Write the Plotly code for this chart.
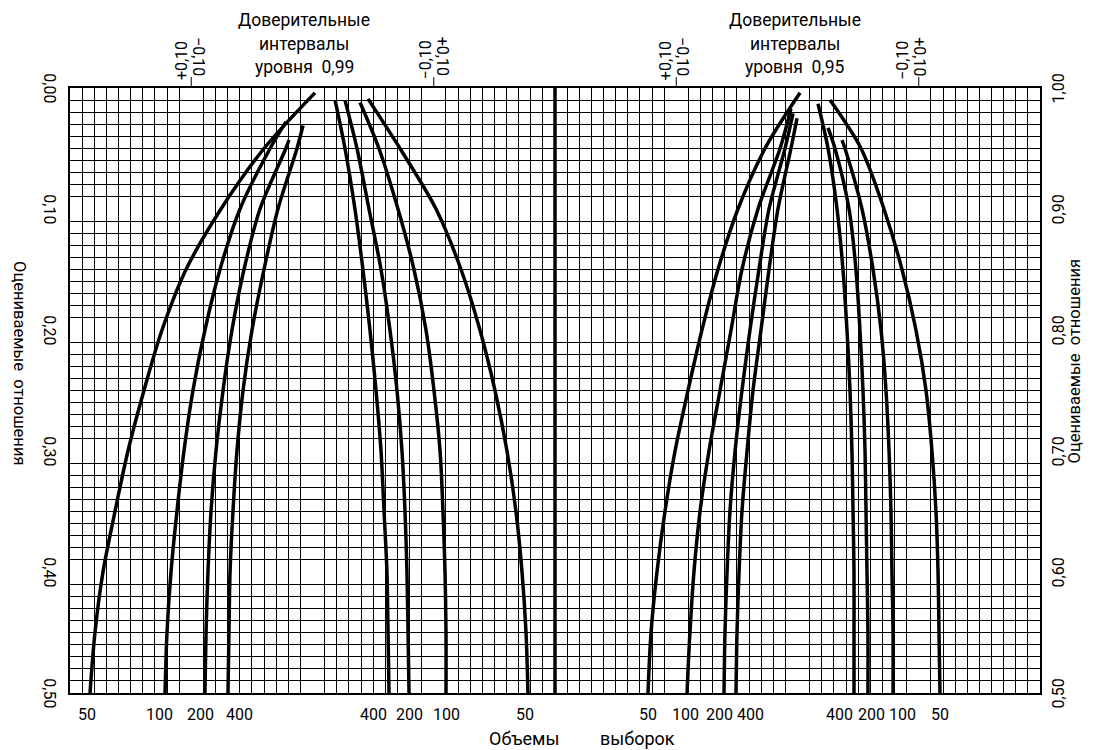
import plotly.graph_objects as go

FONT = "Roboto, Liberation Sans, sans-serif"

# Horizontal axis: grid cells, one cell = 0.01 of deviation.
# Centres of the two nomograms sit at cells 20 (0.99) and 60 (0.95).
X_MAX = 80
P_MAX = 0.50

# Estimated-proportion levels at which every curve is sampled
P_LEVELS = [0.05, 0.10, 0.15, 0.20, 0.25, 0.30, 0.35, 0.40, 0.45, 0.50]
SAMPLE_SIZES = [50, 100, 200, 400]

# ---- confidence level 0.99, "+" branch (left of centre) ----
LOW99_START_P = [0.004, 0.028, 0.043, 0.031]
LOW99_START_X = [20.2, 17.81, 18.06, 19.22]
LOW99_N50 = [16.0, 12.45, 9.57, 7.59, 6.10, 4.78, 3.71, 2.72, 2.06, 1.65]
LOW99_N100 = [16.5, 14.02, 12.37, 11.13, 10.14, 9.40, 8.82, 8.33, 8.00, 7.84]
LOW99_N200 = [17.8, 15.67, 14.35, 13.36, 12.62, 12.04, 11.63, 11.38, 11.22, 11.13]
LOW99_N400 = [18.72, 17.15, 16.0, 15.01, 14.27, 13.77, 13.44, 13.20, 13.11, 13.03]

# ---- confidence level 0.99, "-" branch (right of centre) ----
UP99_START_P = [0.009, 0.012, 0.010, 0.010]
UP99_START_X = [24.58, 23.92, 22.68, 21.86]
UP99_N50 = [27.22, 30.19, 32.25, 33.81, 35.05, 36.04, 36.78, 37.28, 37.61, 37.77]
UP99_N100 = [25.48, 27.05, 28.37, 29.36, 30.02, 30.52, 30.76, 30.93, 31.01, 31.01]
UP99_N200 = [23.67, 24.66, 25.65, 26.39, 26.97, 27.38, 27.63, 27.79, 27.88, 27.96]
UP99_N400 = [22.68, 23.50, 24.16, 24.74, 25.24, 25.65, 25.90, 26.14, 26.23, 26.31]

# ---- confidence level 0.95, "+" branch ----
LOW95_START_P = [0.004, 0.017, 0.021, 0.025]
LOW95_START_X = [60.21, 59.46, 59.63, 59.96]
LOW95_N50 = [57.32, 55.09, 53.44, 52.12, 50.97, 49.90, 49.07, 48.41, 47.92, 47.67]
LOW95_N100 = [58.56, 56.74, 55.42, 54.52, 53.61, 52.70, 51.96, 51.46, 51.13, 50.89]
LOW95_N200 = [58.97, 57.65, 56.82, 56.08, 55.42, 54.85, 54.43, 54.19, 54.02, 53.94]
LOW95_N400 = [59.46, 58.39, 57.65, 56.99, 56.33, 55.84, 55.42, 55.18, 55.01, 54.93]

# ---- confidence level 0.95, "-" branch ----
UP95_START_P = [0.010, 0.043, 0.033, 0.013]
UP95_START_X = [62.68, 63.67, 62.52, 61.69]
UP95_N50 = [65.24, 67.13, 68.62, 69.77, 70.60, 71.09, 71.42, 71.59, 71.67, 71.75]
UP95_N100 = [63.92, 65.32, 66.23, 66.89, 67.30, 67.55, 67.71, 67.79, 67.88, 67.88]
UP95_N200 = [63.09, 64.25, 64.82, 65.15, 65.40, 65.57, 65.65, 65.73, 65.81, 65.81]
UP95_N400 = [62.52, 63.26, 63.75, 64.08, 64.33, 64.49, 64.58, 64.66, 64.66, 64.66]

# Sample-size labels under the bottom edge
N_LABEL_X = [1.40, 7.42, 10.80, 13.94, 24.99, 28.04, 31.01, 37.53,
             47.67, 50.80, 53.60, 56.10, 63.50, 66.14, 68.70, 71.75]
N_LABEL_TEXT = ["50", "100", "200", "400", "400", "200", "100", "50",
                "50", "100", "200", "400", "400", "200", "100", "50"]

# Proportion scales on both sides
LEFT_TICKS = [0.0, 0.1, 0.2, 0.3, 0.4, 0.5]
LEFT_TEXT = ["0,00", "0,10", "0,20", "0,30", "0,40", "0,50"]
RIGHT_TEXT = ["1,00", "0,90", "0,80", "0,70", "0,60", "0,50"]

# Deviation marks of ±0.10 on the top edge
DEV_TICKS = [10, 30, 50, 70]

fig = go.Figure()

groups = [
    (LOW99_START_P, LOW99_START_X, [LOW99_N50, LOW99_N100, LOW99_N200, LOW99_N400]),
    (UP99_START_P, UP99_START_X, [UP99_N50, UP99_N100, UP99_N200, UP99_N400]),
    (LOW95_START_P, LOW95_START_X, [LOW95_N50, LOW95_N100, LOW95_N200, LOW95_N400]),
    (UP95_START_P, UP95_START_X, [UP95_N50, UP95_N100, UP95_N200, UP95_N400]),
]
for start_p, start_x, curves in groups:
    for n, p0, x0, xs in zip(SAMPLE_SIZES, start_p, start_x, curves):
        fig.add_trace(go.Scatter(
            x=[x0] + xs, y=[p0] + P_LEVELS, mode="lines", name=f"n={n}",
            line=dict(color="black", width=3.5, shape="spline", smoothing=0.9),
            hoverinfo="skip", showlegend=False))

# Divider between the two nomograms
fig.add_trace(go.Scatter(x=[X_MAX / 2, X_MAX / 2], y=[0, P_MAX], mode="lines",
                         line=dict(color="black", width=3.5),
                         hoverinfo="skip", showlegend=False))

shapes = []
for t in DEV_TICKS:
    shapes.append(dict(type="line", xref="x", yref="paper", x0=t, x1=t,
                       y0=1.0, y1=1.018, line=dict(color="black", width=1)))

ann = []
def txt(text, x, y, xref="paper", yref="paper", size=17, angle=0):
    ann.append(dict(text=text, x=x, y=y, xref=xref, yref=yref, showarrow=False,
                    xanchor="center", yanchor="middle", textangle=angle,
                    font=dict(family=FONT, size=size, color="black")))

for p, s in zip(LEFT_TICKS, LEFT_TEXT):
    txt(s, -0.021, p, yref="y", size=16, angle=90)
for p, s in zip(LEFT_TICKS, RIGHT_TEXT):
    txt(s, 1.019, p, yref="y", size=16, angle=-90)

txt("Оцениваемые  отношения", -0.052, 0.227, yref="y", size=16.5, angle=90)
txt("Оцениваемые  отношения", 1.036, 0.226, yref="y", size=16.5, angle=-90)

for s, xc in [("0,99", 19.3), ("0,95", 59.8)]:
    txt("Доверительные", xc, 1.112, xref="x", size=17.5)
    txt("интервалы", xc, 1.073, xref="x", size=17.5)
    txt("уровня  " + s, xc, 1.034, xref="x", size=17.5)

# rotated ±0,10 marks: (position, first column, second column)
for xc, a, b in [(9.15, "+0,10", "−0,10"), (29.3, "−0,10", "+0,10"),
                 (49.07, "+0,10", "−0,10"), (68.6, "−0,10", "+0,10")]:
    txt(a, xc, 1.046, xref="x", size=16, angle=-90)
    txt(b, xc + 1.45, 1.052, xref="x", size=16, angle=90)

for xv, s in zip(N_LABEL_X, N_LABEL_TEXT):
    txt(s, xv, -0.036, xref="x", size=16)

txt("Объемы", 0.468, -0.076, size=18)
txt("выборок", 0.585, -0.076, size=18)

axis_common = dict(showline=True, linewidth=2, linecolor="black", mirror=True,
                   showgrid=False, zeroline=False, showticklabels=False, ticks="")
fig.update_layout(
    width=1093, height=750,
    margin=dict(l=70, r=53, t=88, b=57),
    paper_bgcolor="white", plot_bgcolor="white",
    xaxis=dict(range=[0, X_MAX], **axis_common,
               minor=dict(dtick=1, tick0=0, showgrid=True, gridcolor="black", gridwidth=1)),
    yaxis=dict(range=[P_MAX, 0], **axis_common,
               minor=dict(dtick=0.01, tick0=0, showgrid=True, gridcolor="black", gridwidth=1)),
    shapes=shapes, annotations=ann,
)

fig.write_html("out.html")
